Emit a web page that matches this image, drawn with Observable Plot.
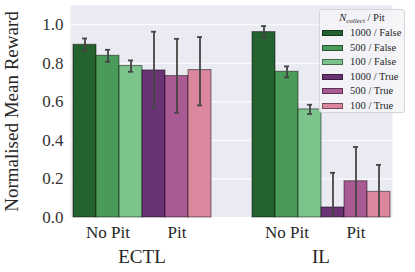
<!DOCTYPE html>
<html><head><meta charset="utf-8">
<script src="https://cdn.jsdelivr.net/npm/d3@7"></script>
<script src="https://cdn.jsdelivr.net/npm/@observablehq/plot@0.6"></script>
<style>
body{margin:0;background:#fff;}
#wrap{position:relative;width:415px;height:272px;font-family:"Liberation Serif",serif;color:#262626;}
#legend{position:absolute;left:319px;top:9px;width:86px;height:104px;background:rgba(244,244,248,0.85);border:1px solid #d4d4da;border-radius:3px;box-sizing:border-box;font-size:10.5px;}
#legend .title{position:absolute;left:0;right:0;top:1px;height:14px;line-height:14px;text-align:center;}
#legend .title sub{font-size:7px;font-style:italic;vertical-align:-2px;line-height:0;}
#legend .row{position:absolute;left:2px;height:14px;line-height:14px;display:flex;align-items:center;white-space:nowrap;}
#legend .sw{width:21px;height:6px;margin-right:7px;box-sizing:border-box;border:1px solid rgba(0,0,0,0.45);}
</style></head><body><div id="wrap"></div>
<script>
const datasets = ["ECTL", "IL"];
const hues = ["1000 / False", "500 / False", "100 / False", "1000 / True", "500 / True", "100 / True"];
const colors = ["#24622f", "#4a9a5a", "#7cc38c", "#6a3374", "#aa5a92", "#db879e"];
const ectlMean = [0.896, 0.839, 0.786, 0.763, 0.734, 0.765];
const ectlLow  = [0.864, 0.808, 0.756, 0.570, 0.544, 0.582];
const ectlHigh = [0.929, 0.870, 0.815, 0.964, 0.927, 0.936];
const ilMean = [0.962, 0.756, 0.561, 0.052, 0.188, 0.133];
const ilLow  = [0.934, 0.727, 0.537, -0.13, -0.03, -0.02];
const ilHigh = [0.993, 0.784, 0.585, 0.232, 0.366, 0.273];
const yTicks = [0, 0.2, 0.4, 0.6, 0.8, 1.0];
const pitTicks = ["500 / False", "500 / True"];
const pitLabels = ["No Pit", "Pit"];
const yLabel = "Normalised Mean Reward";

const rows = [];
datasets.forEach((ds, i) => {
  const m = i === 0 ? ectlMean : ilMean;
  const lo = i === 0 ? ectlLow : ilLow;
  const hi = i === 0 ? ectlHigh : ilHigh;
  hues.forEach((h, j) => rows.push({ds, h, mean: m[j], lo: lo[j], hi: hi[j]}));
});

const errColor = "#454545";
const plot = Plot.plot({
  width: 415, height: 272,
  marginLeft: 52, marginRight: 5, marginTop: 5, marginBottom: 55,
  style: {fontFamily: "'Liberation Serif', serif", color: "#262626", background: "transparent", overflow: "visible"},
  fx: {domain: datasets, paddingInner: 0.2, paddingOuter: 0.1},
  x: {domain: hues, padding: 0},
  y: {domain: [0, 1.1]},
  color: {domain: hues, range: colors},
  marks: [
    Plot.frame({fill: "#eaeaf2", stroke: null, facet: "super"}),
    Plot.gridY(yTicks, {stroke: "white", strokeOpacity: 1, strokeWidth: 1, insetLeft: -18, insetRight: -18}),
    Plot.barY(rows, {fx: "ds", x: "h", y: "mean", fill: "h", stroke: "black", strokeOpacity: 0.45, strokeWidth: 1.1}),
    Plot.ruleX(rows, {fx: "ds", x: "h", y1: "lo", y2: "hi", stroke: errColor, strokeWidth: 1.8, clip: true}),
    Plot.tickY(rows, {fx: "ds", x: "h", y: "hi", stroke: errColor, strokeWidth: 1.8, insetLeft: 9, insetRight: 9, clip: true}),
    Plot.tickY(rows, {fx: "ds", x: "h", y: "lo", stroke: errColor, strokeWidth: 1.8, insetLeft: 9, insetRight: 9, clip: true}),
    Plot.axisY(yTicks, {tickSize: 0, tickPadding: 7, fontSize: 17, tickFormat: d3.format(".1f"), label: null, fill: "#333"}),
    Plot.axisY({ticks: [], label: yLabel, labelAnchor: "center", labelOffset: 66, labelArrow: "none", fontSize: 19, fill: "#262626"}),
    Plot.axisX(pitTicks, {tickSize: 0, tickPadding: 8, fontSize: 17, tickFormat: d => pitLabels[pitTicks.indexOf(d)], label: null, fill: "#262626"}),
    Plot.axisFx({anchor: "bottom", tickSize: 0, tickPadding: 32, fontSize: 19, label: null, fill: "#262626"})
  ]
});
const wrap = document.getElementById("wrap");
wrap.appendChild(plot);

const legend = document.createElement("div");
legend.id = "legend";
legend.innerHTML = '<div class="title"><i>N</i><sub>collect</sub> / Pit</div>';
hues.forEach((h, j) => {
  const r = document.createElement("div");
  r.className = "row";
  r.style.top = (16 + j * 14.5) + "px";
  r.innerHTML = `<span class="sw" style="background:${colors[j]}"></span><span>${h}</span>`;
  legend.appendChild(r);
});
wrap.appendChild(legend);
</script></body></html>
